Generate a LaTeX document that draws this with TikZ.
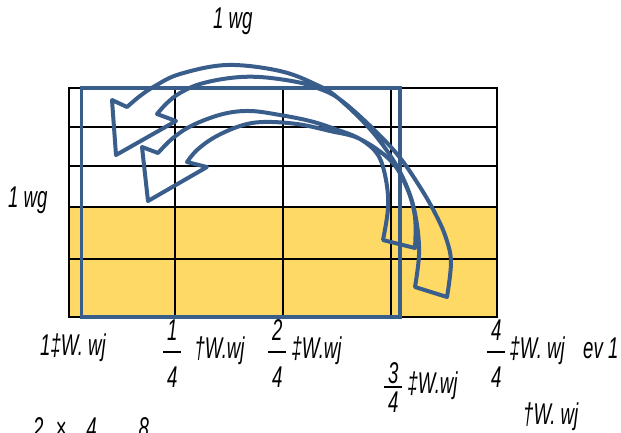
\documentclass[tikz,border=0pt]{standalone}
\usepackage{amsmath}
\usepackage{fontspec}
\newfontfamily\narrowit[FakeStretch=0.62]{Liberation Sans}
\definecolor{cellyellow}{HTML}{FFD966}
\definecolor{arrowblue}{HTML}{3A5E8C}
\tikzset{
  lbl/.style={font=\narrowit\itshape\fontsize{30}{34}\selectfont, inner sep=0pt, anchor=base west},
  gridline/.style={black, line width=2pt},
  bluebox/.style={arrowblue, line width=3.5pt},
  bendarrow/.style={arrowblue, line width=4pt, line join=round},
}
% 分数：横线更宽、上下留空更大
\newcommand{\qfr}[2]{$\genfrac{}{}{1.6pt}{0}{\makebox[18pt]{\rule[-5.5pt]{0pt}{0pt}#1}}{\makebox[18pt]{\rule{0pt}{30pt}#2}}$}
% 紧凑分数
\newcommand{\qfrc}[2]{$\genfrac{}{}{1.6pt}{1}{\makebox[18pt]{#1}}{\makebox[18pt]{\rule{0pt}{23pt}#2}}$}
\begin{document}
\begin{tikzpicture}[x=1pt, y=-1pt]
  \useasboundingbox (0,0) rectangle (621,432);

  % --- 方格 (下两行涂黄) ---
  \fill[cellyellow] (69,207) rectangle (497,317);
  \draw[gridline] (69,88) rectangle (497,317);
  \draw[gridline] (175,88) -- (175,317);
  \draw[gridline] (283,88) -- (283,317);
  \draw[gridline] (391,88) -- (391,317);
  \draw[gridline] (69,127) -- (497,127);
  \draw[gridline] (69,166) -- (497,166);
  \draw[gridline] (69,207) -- (497,207);
  \draw[gridline] (69,259) -- (497,259);

  % --- 蓝框 (3/4 部分) ---
  \draw[bluebox] (81.5,88) rectangle (400,317);

  % --- 外侧弯箭头 ---
  \draw[bendarrow]
    plot[smooth, tension=0.6] coordinates {(127,107) (140,96) (155,86) (180,74) (227,65) (280,71) (317,85) (338,98)
      (370,129) (395,163) (410,195) (417,225) (419,255) (415,287)}
    -- (447,297)
    -- plot[smooth, tension=0.6] coordinates {(447,297) (451,262) (446,238) (436,215) (420,187) (397,154) (365,121) (338,98)
      (320,89) (297,82) (260,77) (230,78) (200,84) (180,93) (167,103) (157,114)}
    -- (176,121) -- (116,155) -- (112,100) -- cycle;

  % --- 内侧弯箭头 ---
  \draw[bendarrow]
    plot[smooth, tension=0.6] coordinates {(158,153) (173,138) (193,125) (223,114) (250,111) (280,115) (310,121) (335,129) (360,139)
      (378,155) (386,180) (388,208) (383,240)}
    -- (415,248)
    -- plot[smooth, tension=0.6] coordinates {(415,248) (415,217) (407,188) (391,161) (360,139)
      (330,131) (297,124) (263,122) (240,126) (215,137) (197,150) (187,162)}
    -- (207,167) -- (148,201) -- (142,147) -- cycle;

  % --- 文字 ---
  \node[lbl] (topkg) at (213,28) {1 wg};
  \node[lbl] (leftkg) at (8,207) {1 wg};
  \node[lbl] (whole) at (40,355) {1‡W. wj};
  \node[lbl] (quarter) at (162,358) {\qfr{1}{4}\hspace{12pt}†W.wj};
  \node[lbl] (half) at (267,358) {\qfr{2}{4}\hspace{4pt}‡W.wj};
  \node[lbl] (threeq) at (383,393) {\qfrc{3}{4}\hspace{4pt}‡W.wj};
  \node[lbl] (full) at (486,358) {\qfr{4}{4}\hspace{3pt}‡W. wj};
  \node[lbl] (evone) at (583,358) {ev 1};
  \node[lbl] (lastw) at (523,424) {†W. wj};
  \node[lbl] (product) at (33,438) {2\hspace{12pt}×\hspace{20pt}4\hspace{42pt}8};
\end{tikzpicture}
\end{document}
